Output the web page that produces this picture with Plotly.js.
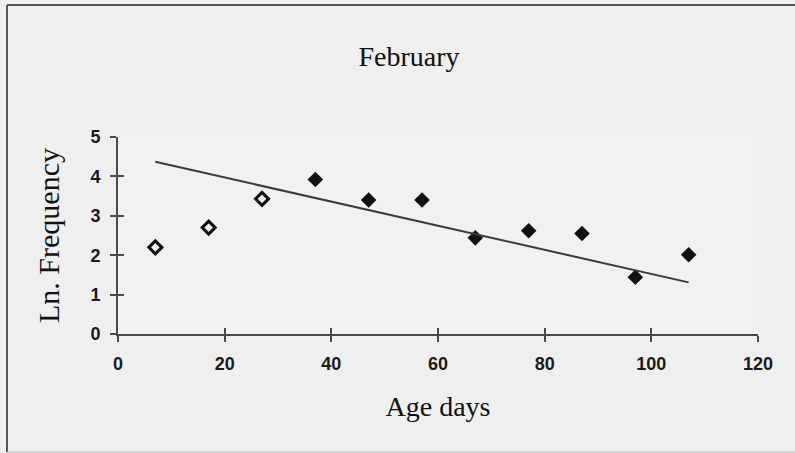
<!DOCTYPE html>
<html>
<head>
<meta charset="utf-8">
<script src="https://cdn.plot.ly/plotly-3.0.1.min.js"></script>
<style>
html,body{margin:0;padding:0;background:#efefef;}
#chart{width:795px;height:453px;}
</style>
</head>
<body>
<div id="chart"></div>
<script>
// Data
var openAge = [7, 17, 27];
var openLnFreq = [2.2, 2.7, 3.43];
var filledAge = [37, 47, 57, 67, 77, 87, 97, 107];
var filledLnFreq = [3.92, 3.40, 3.40, 2.44, 2.62, 2.55, 1.44, 2.01];
var trendAge = [7, 107];
var trendLnFreq = [4.37, 1.31];
var xTicks = [0, 20, 40, 60, 80, 100, 120];
var yTicks = [0, 1, 2, 3, 4, 5];

var serif = 'Liberation Serif, Times New Roman, serif';
var sans = 'Liberation Sans, Arial, sans-serif';
var axisColor = '#4a4a4a';

var traces = [
  {
    x: filledAge, y: filledLnFreq, type: 'scatter', mode: 'markers',
    marker: {symbol: 'diamond', size: 12, color: '#111111'},
    hoverinfo: 'x+y', showlegend: false
  },
  {
    x: openAge, y: openLnFreq, type: 'scatter', mode: 'markers',
    marker: {symbol: 'diamond-open', size: 10, color: '#111111', line: {width: 3, color: '#111111'}},
    hoverinfo: 'x+y', showlegend: false
  },
  {
    x: trendAge, y: trendLnFreq, type: 'scatter', mode: 'lines',
    xaxis: 'x2', yaxis: 'y2',
    line: {color: '#3a3a3a', width: 2},
    hoverinfo: 'skip', showlegend: false
  }
];

var W = 640, H = 197, L = 118, T = 137;
function px(x){ return (x - L) / W; }
function py(y){ return (T + H - y) / H; }

var layout = {
  width: 795, height: 453,
  margin: {l: L, r: 795 - L - W, t: T, b: 453 - T - H, pad: 0},
  paper_bgcolor: '#efefef',
  plot_bgcolor: '#f1f1f1',
  showlegend: false,
  title: {
    text: 'February',
    font: {family: serif, size: 28, color: '#111111'},
    x: 409 / 795, xanchor: 'center',
    xref: 'container', yref: 'container',
    y: 1 - 56 / 453, yanchor: 'middle'
  },
  xaxis: {
    range: [0, 120], tickvals: xTicks, ticktext: xTicks.map(String),
    showgrid: false, zeroline: false,
    showline: true, linecolor: axisColor, linewidth: 2,
    ticks: 'outside', ticklen: 6, tickwidth: 2, tickcolor: axisColor,
    tickfont: {family: sans, size: 18, color: '#1a1a1a', weight: 'bold'},
    ticklabelstandoff: 6,
    title: {text: 'Age days', font: {family: serif, size: 28, color: '#111111'}, standoff: 24},
    fixedrange: true
  },
  yaxis: {
    range: [0, 5], tickvals: yTicks, ticktext: yTicks.map(String),
    showgrid: false, zeroline: false,
    showline: true, linecolor: axisColor, linewidth: 2,
    ticks: 'outside', ticklen: 6, tickwidth: 2, tickcolor: axisColor,
    tickfont: {family: sans, size: 18, color: '#1a1a1a', weight: 'bold'},
    ticklabelstandoff: 6,
    title: {text: 'Ln. Frequency', font: {family: serif, size: 30, color: '#111111'}, standoff: 22},
    fixedrange: true
  },
  xaxis2: {
    overlaying: 'x', anchor: 'y2', matches: 'x', range: [0, 120], tickvals: xTicks,
    showticklabels: false, showgrid: false, zeroline: false, showline: false,
    ticks: 'inside', ticklen: 6, tickwidth: 2, tickcolor: axisColor, fixedrange: true
  },
  yaxis2: {
    overlaying: 'y', anchor: 'x2', matches: 'y', range: [0, 5], tickvals: yTicks,
    showticklabels: false, showgrid: false, zeroline: false, showline: false,
    ticks: 'inside', ticklen: 6, tickwidth: 2, tickcolor: axisColor, fixedrange: true
  },
  shapes: [
    {type: 'line', xref: 'paper', yref: 'paper', x0: px(7), x1: px(800), y0: py(5), y1: py(5),
     line: {color: '#555555', width: 2}},
    {type: 'line', xref: 'paper', yref: 'paper', x0: px(7), x1: px(7), y0: py(5), y1: py(452),
     line: {color: '#555555', width: 2}},
    {type: 'line', xref: 'paper', yref: 'paper', x0: px(7), x1: px(800), y0: py(452), y1: py(452),
     line: {color: '#bbbbbb', width: 1}}
  ]
};

Plotly.newPlot('chart', traces, layout, {displayModeBar: false, staticPlot: true});
</script>
</body>
</html>
